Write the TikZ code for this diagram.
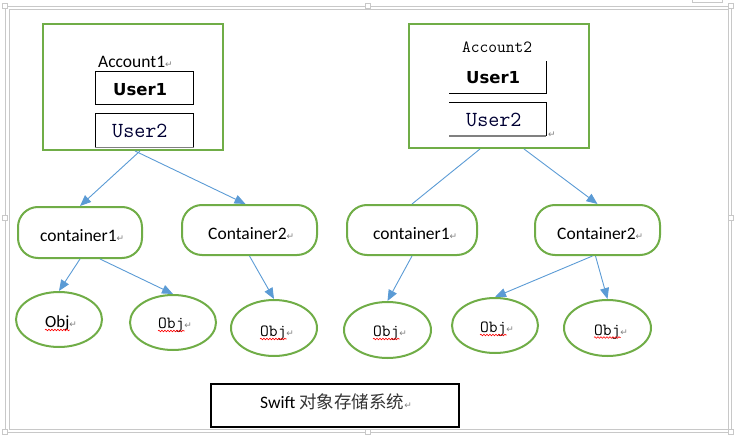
\documentclass[tikz,border=0pt]{standalone}
\usepackage{fontspec}
\setmainfont{Carlito}
\newfontfamily\dvs{DejaVu Sans}
\newfontfamily\cjkf{Noto Sans CJK SC}
\usetikzlibrary{shapes.geometric,arrows.meta,decorations.pathmorphing}
\definecolor{grn}{HTML}{70AD47}
\definecolor{blu}{HTML}{5B9BD5}
\definecolor{frm}{HTML}{C8C8C8}
\newcommand\retm{{\dvs\fontsize{9}{9}\selectfont\textcolor{gray}{↵}}}
\begin{document}
\begin{tikzpicture}[x=1pt,y=-1pt,
  acct/.style={draw=grn,line width=2pt,minimum width=180pt,inner sep=0},
  ubox/.style={draw=black,line width=1pt,minimum width=98pt,inner sep=0},
  cont/.style={draw=grn,line width=2pt,rounded corners=20pt,inner sep=0},
  objshape/.style={draw=grn,line width=2pt,ellipse,inner sep=0},
  conn/.style={blu,line width=0.9pt,-{Triangle[length=11pt,width=9pt]}},
  plainconn/.style={blu,line width=0.9pt},
  txt/.style={anchor=base west,inner sep=0},
  cal/.style={txt,font=\fontsize{17.5}{20}\selectfont},
  usans/.style={txt,font=\dvs\bfseries\fontsize{16.5}{20}\selectfont},
  userif/.style={txt,font=\ttfamily\fontsize{21.5}{24}\selectfont,text=black!80!blue},
  mono/.style={txt,font=\ttfamily\fontsize{17}{20}\selectfont},
  squig/.style={red,line width=0.6pt,decorate,decoration={snake,segment length=3pt,amplitude=0.8pt}},
  handle/.style={draw=frm,fill=white,line width=0.6pt,minimum size=5pt,inner sep=0}
]
\useasboundingbox (0,0) rectangle (740,442);
% frame
\draw[frm,line width=0.8pt] (5,6) rectangle (731,432);
\draw[frm,line width=0.8pt] (9,9) rectangle (728,429);
\draw[frm,line width=0.8pt] (692,0) -- (692,2.5) -- (722,2.5) -- (722,0);
\foreach \p/\n in {{(5,6)}/h1,{(368,6)}/h2,{(731,6)}/h3,{(5,218)}/h4,{(731,218)}/h5,{(5,432)}/h6,{(368,432)}/h7,{(731,432)}/h8}
  \node[handle] (\n) at \p {};

% account boxes
\node[acct,minimum height=126pt] (acc1) at (133,87) {};
\node[acct,minimum height=124pt] (acc2) at (499,86) {};
\node[ubox,minimum height=33pt] (u11) at (144,87.5) {};
\node[ubox,minimum height=34pt] (u12) at (144,130) {};
\draw[gray,line width=1.8pt] (u12.south west) -- (u12.south east);
\draw[black,line width=1pt] (449,93) -| (546,61);
\draw[black,line width=1pt] (449,102) -| (546,136);
\draw[gray,line width=1.8pt] (449,136) -- (546,136);

\node[cal] (tacc1) at (98,67.5) {Account1\rlap{\retm}};
\node[usans] (tu11) at (113,95) {User1};
\node[userif] (tu12) at (112,137.5) {User2};
\node[mono] (tacc2) at (462,52) {Account2};
\node[usans] (tu21) at (466,83.5) {User1};
\node[userif] (tu22) at (466,126.5) {User2};
\node[txt] (rm1) at (548,137) {\retm};

% containers
\node[cont,minimum width=124pt,minimum height=51pt] (c1) at (80,232.5) {};
\node[cont,minimum width=135pt,minimum height=50pt] (c2) at (249.5,230) {};
\node[cont,minimum width=130pt,minimum height=50pt] (c3) at (412,230) {};
\node[cont,minimum width=125pt,minimum height=50pt] (c4) at (597.5,230) {};
\node[cal] (tc1) at (40,241.5) {container1\rlap{\retm}};
\node[cal] (tc2) at (208,239) {Container2\rlap{\retm}};
\node[cal] (tc3) at (373,239) {container1\rlap{\retm}};
\node[cal] (tc4) at (557,239) {Container2\rlap{\retm}};

% objects
\node[objshape,minimum width=86pt,minimum height=55pt] (e1) at (59,319.5) {};
\node[objshape,minimum width=86pt,minimum height=55pt] (e2) at (173,322.5) {};
\node[objshape,minimum width=86pt,minimum height=56pt] (e3) at (274,328) {};
\node[objshape,minimum width=87pt,minimum height=56pt] (e4) at (387.5,330) {};
\node[objshape,minimum width=86pt,minimum height=55pt] (e5) at (495,325.5) {};
\node[objshape,minimum width=87pt,minimum height=56pt] (e6) at (607.5,328) {};
\node[cal,font=\fontsize{17}{20}\selectfont] (o1) at (45,327.5) {Obj\rlap{\retm}};
\node[mono] (o2) at (158,328.5) {Obj\rlap{\retm}};
\node[mono] (o3) at (260,336.5) {Obj\rlap{\retm}};
\node[mono] (o4) at (373,336.5) {Obj\rlap{\retm}};
\node[mono] (o5) at (480,332.5) {Obj\rlap{\retm}};
\node[mono] (o6) at (594,335) {Obj\rlap{\retm}};
\foreach \o in {o1,o2,o3,o4,o5,o6}
  \draw[squig] ([yshift=-2.5pt]\o.base west) -- ([yshift=-2.5pt]\o.base east);

% connectors
\draw[conn] ([xshift=7pt]acc1.south) -- (c1.north);
\draw[conn] ([xshift=2pt]acc1.south) -- ([xshift=-4pt]c2.north);
\draw[plainconn] ([xshift=-19pt]acc2.south) -- (c3.north);
\draw[conn] ([xshift=25pt]acc2.south) -- (c4.north);
\draw[conn] (c1.south) -- (e1.north);
\draw[conn] ([xshift=20pt]c1.south) -- (e2.north);
\draw[conn] (c2.south) -- (e3.north);
\draw[conn] (c3.south) -- (e4.north);
\draw[conn] ([xshift=-5pt]c4.south) -- (e5.north);
\draw[conn] ([xshift=-2pt]c4.south) -- (e6.north);

% title box
\node[draw=black,line width=1.2pt,minimum width=248pt,minimum height=43pt,inner sep=0] (sw) at (335,405.5) {};
\node[cal] (tsw) at (260,408.5) {Swift {\cjkf\fontsize{17.5}{20}\selectfont\color{black!80}对象存储系统}\rlap{\retm}};
\end{tikzpicture}
\end{document}
